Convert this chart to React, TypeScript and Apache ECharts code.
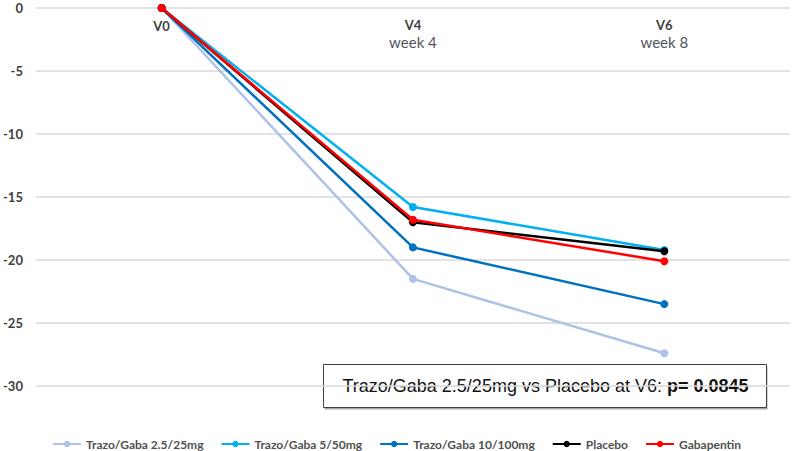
import React, { useEffect, useRef } from "react";
import * as echarts from "echarts";

const visits = ["V0", "V4", "V6"];
const weeks = ["", "week 4", "week 8"];
const seriesNames = [
  "Trazo/Gaba 2.5/25mg",
  "Trazo/Gaba 5/50mg",
  "Trazo/Gaba 10/100mg",
  "Placebo",
  "Gabapentin",
];
const trazo25 = [0, -21.5, -27.4];
const trazo50 = [0, -15.8, -19.2];
const trazo100 = [0, -19.0, -23.5];
const placebo = [0, -17.0, -19.3];
const gabapentin = [0, -16.8, -20.1];
const seriesColors = ["#adc2e6", "#00b0f0", "#0070c0", "#000000", "#ff0000"];
const yTicks = { min: -30, max: 0, interval: 5 };
const annotationPlain = "Trazo/Gaba 2.5/25mg vs Placebo at V6: ";
const annotationBold = "p= 0.0845";

export default function App() {
  const ref = useRef<HTMLDivElement>(null);
  useEffect(() => {
    if (!ref.current) return;
    const chart = echarts.init(ref.current, undefined, { renderer: "svg" });
    const allData = [trazo25, trazo50, trazo100, placebo, gabapentin];
    const series = allData.map((d, i) => ({
      name: seriesNames[i],
      type: "line",
      data: d,
      symbol: "circle",
      symbolSize: 8,
      lineStyle: { width: 2.5, color: seriesColors[i] },
      itemStyle: { color: seriesColors[i] },
      z: 2 + i,
    }));
    chart.setOption({
      animation: false,
      backgroundColor: "#ffffff",
      grid: { left: 34, right: 7, top: 8, bottom: 65, containLabel: false },
      xAxis: {
        type: "category",
        data: visits.map((v, i) => (weeks[i] ? `{a|${v}}\n{b|${weeks[i]}}` : `{c|${v}}`)),
        position: "top",
        boundaryGap: true,
        axisLine: { show: false },
        axisTick: { show: false },
        splitLine: { show: false },
        axisLabel: {
          inside: true,
          margin: 8,
          verticalAlign: "top",
          interval: 0,
          rich: {
            a: { fontFamily: "Lato", fontSize: 13, fontWeight: "bold", color: "#404040", lineHeight: 17, align: "center" },
            b: { fontFamily: "Lato", fontSize: 15, color: "#4f5560", lineHeight: 17, align: "center" },
            c: { fontFamily: "Lato", fontSize: 13, fontWeight: "bold", color: "#404040", lineHeight: 17, padding: [2, 0, 0, 0] },
          },
        },
      },
      yAxis: {
        type: "value",
        min: yTicks.min,
        max: yTicks.max,
        interval: yTicks.interval,
        axisLine: { show: false },
        axisTick: { show: false },
        axisLabel: {
          margin: 13,
          fontFamily: "Lato",
          fontSize: 13,
          fontWeight: "bold",
          color: "#404040",
        },
        splitLine: { lineStyle: { color: "#d9d9d9", width: 1.5 } },
      },
      legend: {
        data: seriesNames,
        left: 47,
        top: 433,
        itemWidth: 28,
        itemHeight: 8,
        itemGap: 17,
        textStyle: { fontFamily: "Lato", fontSize: 12, fontWeight: "bold", color: "#505050" },
      },
      graphic: [
        {
          type: "group",
          left: 323,
          top: 364,
          children: [
            {
              type: "rect",
              shape: { x: 1, y: 2, width: 443, height: 43 },
              style: { fill: "#a6a6a6" },
            },
            {
              type: "rect",
              shape: { x: 0, y: 0, width: 443, height: 43 },
              style: { fill: "#ffffff", stroke: "#404040", lineWidth: 1 },
            },
            {
              type: "text",
              x: 222,
              y: 21,
              style: {
                text: `{n|${annotationPlain}}{p|${annotationBold}}`,
                align: "center",
                verticalAlign: "middle",
                fill: "#111111",
                stroke: "none",
                lineWidth: 0,
                rich: {
                  n: { fontFamily: "Liberation Sans", fontSize: 18, color: "#111111", textBorderWidth: 0 },
                  p: { fontFamily: "Liberation Sans", fontSize: 18, fontWeight: "bold", color: "#111111", textBorderWidth: 0 },
                },
              },
            },
          ],
        },
      ],
      series,
    });
    return () => chart.dispose();
  }, []);
  return (
    <div
      ref={ref}
      style={{ position: "fixed", left: 0, top: 0, width: 797, height: 451 }}
    />
  );
}
